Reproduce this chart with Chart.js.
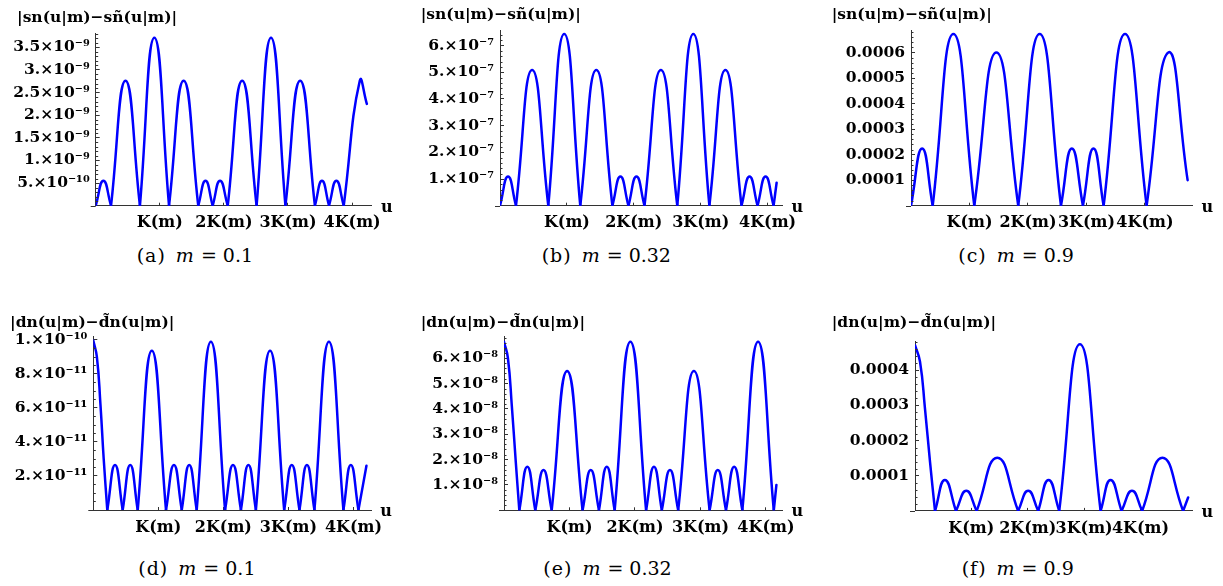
<!DOCTYPE html>
<html>
<head>
<meta charset="utf-8">
<script src="https://cdn.jsdelivr.net/npm/chart.js@4.4.0/dist/chart.umd.min.js"></script>
<style>
  html, body { margin: 0; padding: 0; background: #fff; }
  #page { position: relative; width: 1223px; height: 586px; overflow: hidden; }
  #page canvas { position: absolute; }
  .cap { position: absolute; font: 19px "DejaVu Serif", serif; line-height: 19px; white-space: nowrap; color: #000; }
  .cap .lt { letter-spacing: 1px; }
  .cap i { margin-left: 10px; margin-right: 7px; }
  .cap .eq { margin-right: 6px; }
</style>
</head>
<body>
<div id="page"></div>
<script>
// x positions are in units of K(m); y values in units of the panel's power of ten

// (a) sn, m = 0.1, y in 1e-9
var snX_01 = [0, 0.12, 0.239, 0.465, 0.69, 0.915, 1.144, 1.372, 1.6, 1.713, 1.825, 1.94, 2.06, 2.285, 2.51, 2.735, 2.96, 3.19, 3.42, 3.53, 3.64, 3.755, 3.87, 4.12, 4.23];
var snY_01 = [0, 0.55, 0, 2.76, 0, 3.71, 0, 2.76, 0, 0.55, 0, 0.55, 0, 2.76, 0, 3.71, 0, 2.76, 0, 0.55, 0, 0.55, 0, 2.76, 2.25];
var snTicks_01 = [0.5, 1, 1.5, 2, 2.5, 3, 3.5];
var snLabels_01 = ['5.\u00d710\u207b\u00b9\u2070', '1.\u00d710\u207b\u2079', '1.5\u00d710\u207b\u2079', '2.\u00d710\u207b\u2079', '2.5\u00d710\u207b\u2079', '3.\u00d710\u207b\u2079', '3.5\u00d710\u207b\u2079'];

// (b) sn, m = 0.32, y in 1e-7
var snX_032 = [0, 0.12, 0.239, 0.48, 0.722, 0.96, 1.2, 1.44, 1.68, 1.8, 1.92, 2.04, 2.16, 2.405, 2.65, 2.89, 3.13, 3.37, 3.61, 3.73, 3.85, 3.97, 4.09, 4.135];
var snY_032 = [0, 1.09, 0, 5.09, 0, 6.44, 0, 5.09, 0, 1.09, 0, 1.09, 0, 5.09, 0, 6.44, 0, 5.09, 0, 1.09, 0, 1.09, 0, 0.86];
var snTicks_032 = [1, 2, 3, 4, 5, 6];
var snLabels_032 = ['1.\u00d710\u207b\u2077', '2.\u00d710\u207b\u2077', '3.\u00d710\u207b\u2077', '4.\u00d710\u207b\u2077', '5.\u00d710\u207b\u2077', '6.\u00d710\u207b\u2077'];

// (c) sn, m = 0.9, y in 1e-4
var snX_09 = [0, 0.19, 0.371, 0.725, 1.082, 1.46, 1.834, 2.2, 2.564, 2.75, 2.94, 3.12, 3.294, 3.66, 4.029, 4.4, 4.73];
var snY_09 = [0, 2.24, 0, 6.72, 0, 6.0, 0, 6.72, 0, 2.24, 0, 2.24, 0, 6.72, 0, 6.0, 1.0];
var snTicks_09 = [1, 2, 3, 4, 5, 6];
var snLabels_09 = ['0.0001', '0.0002', '0.0003', '0.0004', '0.0005', '0.0006'];

// (d) dn, m = 0.1, y in 1e-11
var dnX_01 = [0, 0.055, 0.11, 0.16, 0.215, 0.334, 0.452, 0.568, 0.683, 0.9, 1.118, 1.24, 1.36, 1.475, 1.59, 1.808, 2.026, 2.148, 2.27, 2.385, 2.5, 2.718, 2.935, 3.052, 3.17, 3.285, 3.4, 3.623, 3.846, 3.96, 4.077, 4.2];
var dnY_01 = [9.96, 9.0, 6.2, 3.0, 0, 2.65, 0, 2.65, 0, 9.37, 0, 2.65, 0, 2.65, 0, 9.9, 0, 2.65, 0, 2.65, 0, 9.37, 0, 2.65, 0, 2.65, 0, 9.9, 0, 2.65, 0, 2.6];
var dnTicks_01 = [2, 4, 6, 8, 10];
var dnLabels_01 = ['2.\u00d710\u207b\u00b9\u00b9', '4.\u00d710\u207b\u00b9\u00b9', '6.\u00d710\u207b\u00b9\u00b9', '8.\u00d710\u207b\u00b9\u00b9', '1.\u00d710\u207b\u00b9\u2070'];

// (e) dn, m = 0.32, y in 1e-8
var dnX_032 = [0, 0.06, 0.12, 0.18, 0.234, 0.356, 0.478, 0.603, 0.728, 0.964, 1.2, 1.325, 1.45, 1.57, 1.69, 1.93, 2.17, 2.29, 2.41, 2.535, 2.66, 2.9, 3.14, 3.265, 3.39, 3.515, 3.64, 3.88, 4.12, 4.16];
var dnY_032 = [6.65, 6.0, 4.1, 1.9, 0, 1.72, 0, 1.59, 0, 5.5, 0, 1.59, 0, 1.72, 0, 6.65, 0, 1.72, 0, 1.59, 0, 5.5, 0, 1.59, 0, 1.72, 0, 6.65, 0, 1.0];
var dnTicks_032 = [1, 2, 3, 4, 5, 6];
var dnLabels_032 = ['1.\u00d710\u207b\u2078', '2.\u00d710\u207b\u2078', '3.\u00d710\u207b\u2078', '4.\u00d710\u207b\u2078', '5.\u00d710\u207b\u2078', '6.\u00d710\u207b\u2078'];

// (f) dn, m = 0.9, y in 1e-4
var dnX_09 = [0, 0.089, 0.177, 0.266, 0.355, 0.53, 0.727, 0.91, 1.094, 1.46, 1.83, 2.008, 2.186, 2.37, 2.559, 2.926, 3.293, 3.47, 3.665, 3.85, 4.03, 4.39, 4.757, 4.846];
var dnY_09 = [4.71, 4.24, 2.91, 1.4, 0, 0.88, 0, 0.57, 0, 1.51, 0, 0.57, 0, 0.88, 0, 4.74, 0, 0.88, 0, 0.57, 0, 1.51, 0, 0.38];
var dnTicks_09 = [1, 2, 3, 4];
var dnLabels_09 = ['0.0001', '0.0002', '0.0003', '0.0004'];

var kTicks = [1, 2, 3, 4];
var kLabels = ['K(m)', '2K(m)', '3K(m)', '4K(m)'];

var snTitle = '|sn(u|m)\u2212s\u00f1(u|m)|';
var dnTitle = '|dn(u|m)\u2212d\u0303n(u|m)|';
var capLetters = ['(a)', '(b)', '(c)', '(d)', '(e)', '(f)'];
var capM = ['0.1', '0.32', '0.9', '0.1', '0.32', '0.9'];

var AXIS = '#333';
var BLUE = '#0000ff';
var FONT = 'DejaVu Serif';

// layout of each panel on the page (chart area edges, title anchor, canvas box)
var panels = [
  { xs: snX_01, ys: snY_01, yt: snTicks_01, yl: snLabels_01, title: snTitle, yMax: 3.81, xMax: 4.306, major: 0.5, minor: 0.1,
    x: 0, y: 0, w: 405, h: 238, left: 95.7, right: 371.7, top: 33.3, bottom: 205.7, titleLeft: 17, titleMid: 18 },
  { xs: snX_032, ys: snY_032, yt: snTicks_032, yl: snLabels_032, title: snTitle, yMax: 6.56, xMax: 4.22, major: 1, minor: 0.2,
    x: 405, y: 0, w: 410, h: 238, left: 500, right: 782.3, top: 30.7, bottom: 205.7, titleLeft: 420.7, titleMid: 15 },
  { xs: snX_09, ys: snY_09, yt: snTicks_09, yl: snLabels_09, title: snTitle, yMax: 6.88, xMax: 4.81, major: 1, minor: 0.2,
    x: 815, y: 0, w: 408, h: 238, left: 911, right: 1192.3, top: 30, bottom: 205.7, titleLeft: 831.7, titleMid: 15 },
  { xs: dnX_01, ys: dnY_01, yt: dnTicks_01, yl: dnLabels_01, title: dnTitle, yMax: 10.19, xMax: 4.27, major: 2, minor: 0.5,
    x: 0, y: 290, w: 405, h: 253, left: 93.3, right: 371, top: 336.7, bottom: 510, titleLeft: 10, titleMid: 323.3 },
  { xs: dnX_032, ys: dnY_032, yt: dnTicks_032, yl: dnLabels_032, title: dnTitle, yMax: 6.85, xMax: 4.25, major: 1, minor: 0.2,
    x: 405, y: 290, w: 410, h: 253, left: 504, right: 782.3, top: 336.7, bottom: 510.3, titleLeft: 420.7, titleMid: 323.3 },
  { xs: dnX_09, ys: dnY_09, yt: dnTicks_09, yl: dnLabels_09, title: dnTitle, yMax: 4.81, xMax: 4.92, major: 1, minor: 0.2,
    x: 815, y: 290, w: 408, h: 253, left: 915, right: 1192.3, top: 341.7, bottom: 510.9, titleLeft: 831.7, titleMid: 323.3 }
];

var captionPos = [[136.7, 245.6], [541.7, 245.6], [958.3, 245.6], [138.3, 559], [543.3, 559], [961.7, 559]];

// panel title, minor ticks on the y axis, the short stub of the x axis left of the origin, and the "u" label
var axisExtras = {
  id: 'axisExtras',
  afterDraw: function (chart, args, o) {
    var ctx = chart.ctx, a = chart.chartArea, ys = chart.scales.y;
    ctx.save();
    ctx.strokeStyle = AXIS;
    ctx.lineWidth = 1;
    ctx.beginPath();
    for (var k = 1; k * o.minor < ys.max; k++) {
      var v = k * o.minor;
      if (Math.abs(v / o.major - Math.round(v / o.major)) < 1e-6) continue;
      var py = Math.round(ys.getPixelForValue(v)) + 0.5;
      ctx.moveTo(a.left, py);
      ctx.lineTo(a.left + 2.5, py);
    }
    var by = Math.round(a.bottom) + 0.5;
    ctx.moveTo(a.left - 5, by);
    ctx.lineTo(a.left, by);
    ctx.stroke();
    ctx.fillStyle = '#000';
    ctx.textBaseline = 'middle';
    ctx.font = 'bold 15.5px "' + FONT + '"';
    ctx.textAlign = 'left';
    ctx.fillText(o.title, o.titleX, o.titleY);
    ctx.font = 'bold 16px "' + FONT + '"';
    ctx.textAlign = 'center';
    ctx.fillText('u', a.right + 15, a.bottom + 2);
    ctx.restore();
  }
};

// split a curve at its zeros so every arch meets the axis in a sharp cusp
function toArches(xs, ys) {
  var arches = [], cur = [];
  for (var i = 0; i < xs.length; i++) {
    cur.push({ x: xs[i], y: ys[i] });
    if (ys[i] === 0 && cur.length > 1) {
      arches.push(cur);
      cur = [{ x: xs[i], y: 0 }];
    }
  }
  if (cur.length > 1) arches.push(cur);
  return arches;
}

var page = document.getElementById('page');

panels.forEach(function (p, idx) {
  var cv = document.createElement('canvas');
  cv.width = p.w;
  cv.height = p.h;
  cv.style.left = p.x + 'px';
  cv.style.top = p.y + 'px';
  page.appendChild(cv);

  var datasets = toArches(p.xs, p.ys).map(function (arch) {
    return {
      data: arch, borderColor: BLUE, borderWidth: 2.5, pointRadius: 0,
      tension: 0.5, fill: false, borderCapStyle: 'round', borderJoinStyle: 'round'
    };
  });

  new Chart(cv, {
    type: 'line',
    data: { datasets: datasets },
    options: {
      responsive: false, animation: false, devicePixelRatio: 1,
      layout: { padding: { left: 0, top: p.top - p.y, right: p.x + p.w - p.right, bottom: 0 } },
      plugins: {
        legend: { display: false },
        tooltip: { enabled: false },
        axisExtras: { major: p.major, minor: p.minor, title: p.title, titleX: p.titleLeft - p.x, titleY: p.titleMid - p.y }
      },
      scales: {
        x: {
          type: 'linear', min: 0, max: p.xMax,
          border: { color: AXIS, width: 1 },
          grid: { drawOnChartArea: false, drawTicks: true, tickLength: -3, color: AXIS },
          ticks: {
            autoSkip: false, maxRotation: 0, minRotation: 0, padding: 11, color: '#000',
            font: { family: FONT, weight: 'bold', size: 16 },
            callback: function (v, i) { return kLabels[i]; }
          },
          afterBuildTicks: function (s) { s.ticks = kTicks.map(function (v) { return { value: v }; }); },
          afterFit: function (s) { s.height = p.y + p.h - p.bottom; }
        },
        y: {
          type: 'linear', min: 0, max: p.yMax,
          border: { color: AXIS, width: 1 },
          grid: { drawOnChartArea: false, drawTicks: true, tickLength: -4, color: AXIS },
          ticks: {
            autoSkip: false, padding: 10, color: '#000',
            font: { family: FONT, weight: 'bold', size: 15.5 },
            callback: function (v, i) { return p.yl[i]; }
          },
          afterBuildTicks: function (s) { s.ticks = p.yt.map(function (v) { return { value: v }; }); },
          afterFit: function (s) { s.width = p.left - p.x; }
        }
      }
    },
    plugins: [axisExtras]
  });

  var cap = document.createElement('div');
  cap.className = 'cap';
  cap.style.left = captionPos[idx][0] + 'px';
  cap.style.top = captionPos[idx][1] + 'px';
  cap.innerHTML = '<span class="lt">' + capLetters[idx] + '</span><i>m</i><span class="eq">=</span>' + capM[idx];
  page.appendChild(cap);
});
</script>
</body>
</html>
